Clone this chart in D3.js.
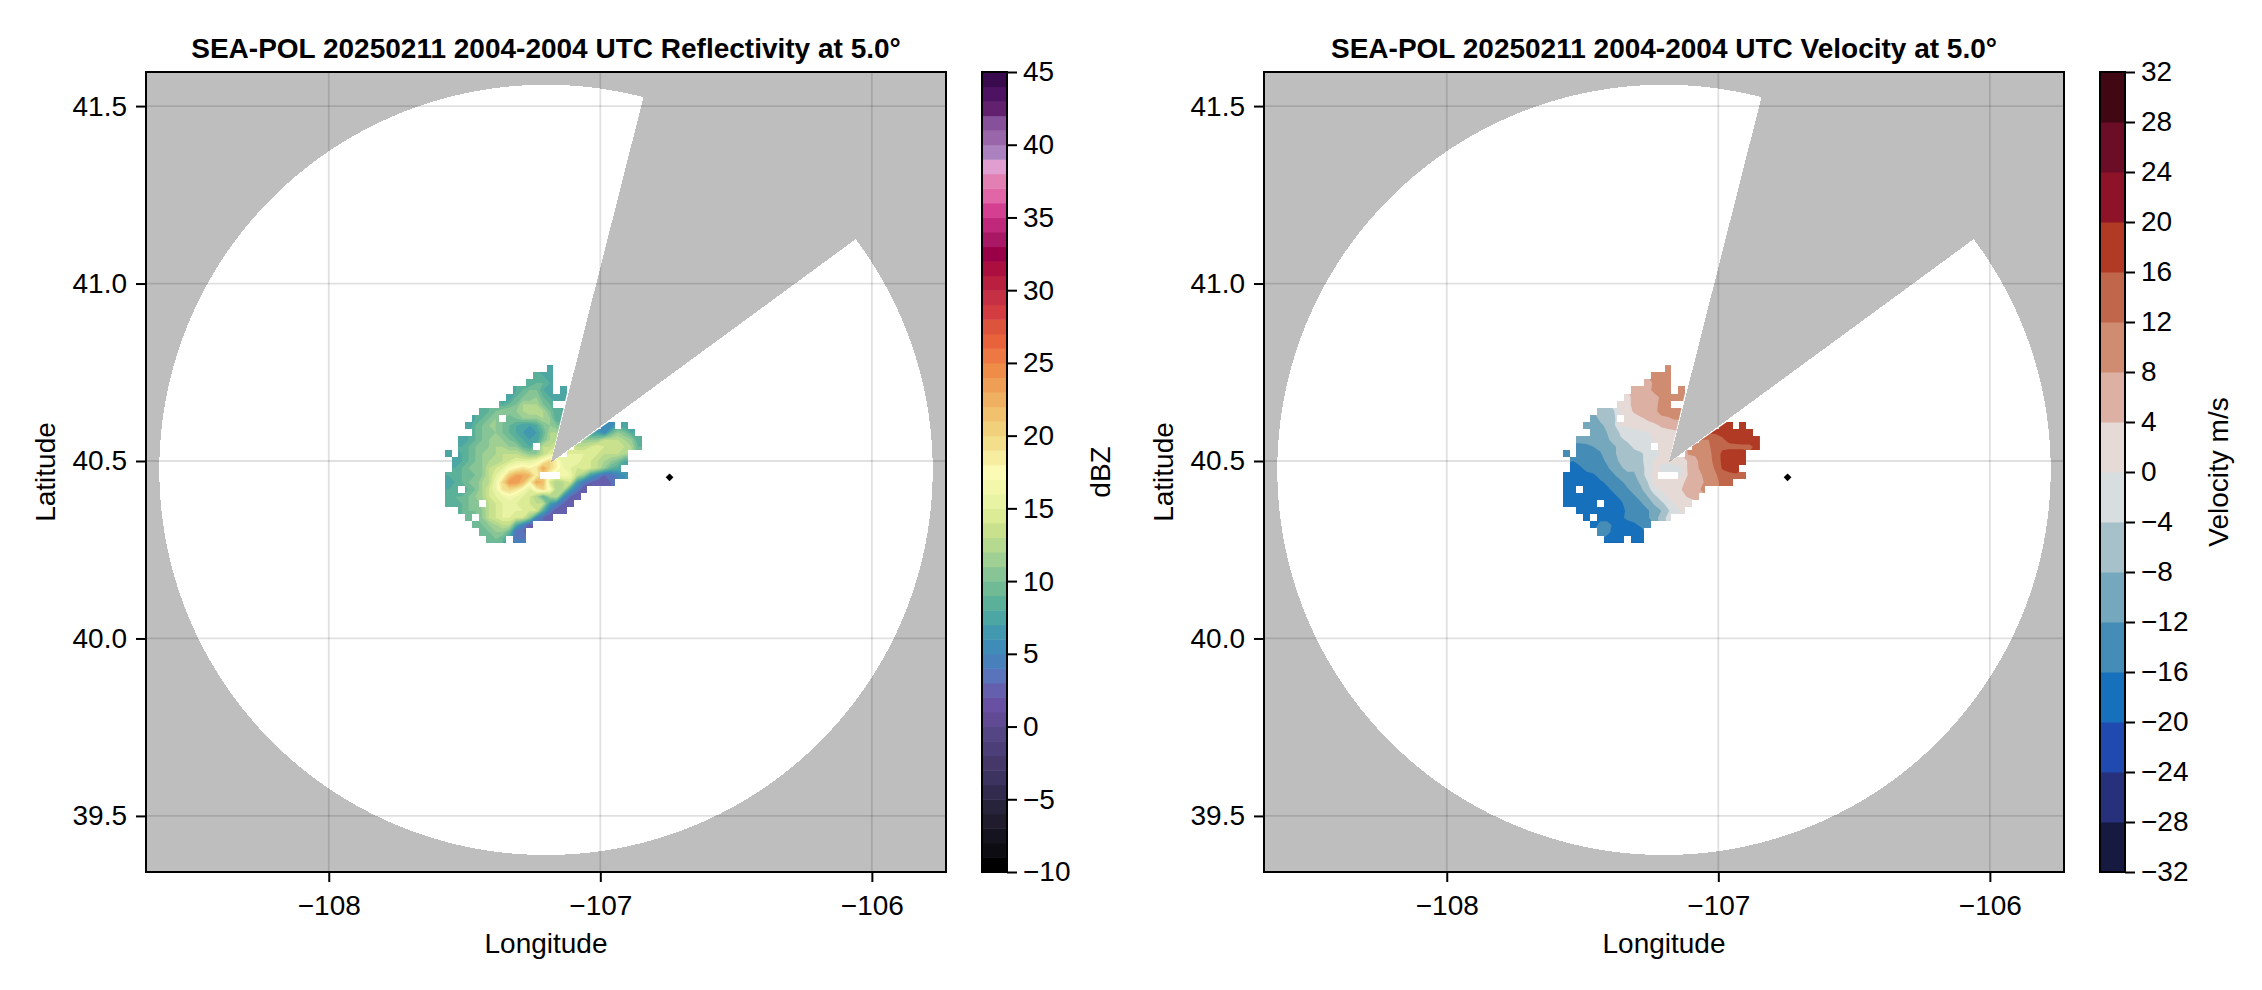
<!DOCTYPE html>
<html>
<head>
<meta charset="utf-8">
<title>SEA-POL</title>
<script src="https://cdn.jsdelivr.net/npm/d3@7"></script>
<style>
  html, body { margin: 0; padding: 0; background: #fff; }
  svg { display: block; }
  text { font-family: "Liberation Sans", Arial, sans-serif; fill: #000; }
</style>
</head>
<body>
<div id="chart"></div>
<script>
const N = null;

/* ===== Data ===== */
const lonDomain = [-108.673, -105.727];
const latDomain = [39.342, 41.596];
const lonTicks = [-108, -107, -106];
const latTicks = [39.5, 40.0, 40.5, 41.0, 41.5];

const radarLon = -107.2;
const radarLat = 40.475;
const rangeLon = 1.424;
const rangeLat = 1.085;
const blockedAz = [14.6, 53.2];
const innerRange = 0.025;

const markerLon = -106.745;
const markerLat = 40.454;

// grid of the echo, first cell and spacing in degrees
const gridLon0 = -107.56;
const gridLat0 = 40.76;
const gridDLon = 0.025;
const gridDLat = 0.02;
const gridCols = 29;

const dbzRows = [
  [N,N,N,N,N,N,N,N,N,N,N,N,N,N,N,7],
  [N,N,N,N,N,N,N,N,N,N,N,N,N,8,8,7],
  [N,N,N,N,N,N,N,N,N,N,N,N,8,9,9,8],
  [N,N,N,N,N,N,N,N,N,N,8,9,10,10,8,7,N,7],
  [N,N,N,N,N,N,N,N,N,7,9,10,10,11,9,8,7,7],
  [N,N,N,N,N,N,N,N,8,9,10,12,12,12,10,9],
  [N,N,N,N,N,8,9,10,11,11,11,12,13,13,12,10,8,8],
  [N,N,N,N,8,9,10,11,N,9,10,11,11,11,12,11,8,8],
  [N,N,N,7,9,10,11,11,10,9,8,7,7,8,10,11,10,10,N,N,N,N,N,5,5,N,7],
  [N,N,N,N,9,10,10,11,10,9,8,7,6,7,9,12,12,N,N,N,N,7,7,5,9,11,10,8],
  [N,N,7,8,9,10,11,11,11,10,9,8,7,7,10,12,13,N,N,N,11,11,11,13,13,13,12,11,8],
  [N,N,8,9,10,10,11,12,12,11,11,9,8,N,13,13,14,N,N,13,13,14,15,14,14,14,13,12,9],
  [7,N,8,9,10,11,11,12,13,13,13,12,11,11,13,15,15,N,15,15,15,15,14,13,13,13,12],
  [N,7,8,9,10,11,12,12,13,14,15,15,15,16,18,20,18,15,15,16,14,14,13,12,11,10,8],
  [N,8,9,10,10,11,13,14,15,17,18,19,18,19,23,20,18,16,15,14,15,14,13,11,9,8],
  [8,8,9,9,10,11,13,15,17,21,23,23,22,18,N,N,N,17,16,13,11,7,5,3,3,5,6],
  [7,8,9,10,10,12,13,16,20,24,24,22,18,23,22,14,12,13,14,7,4,3,2,2,3],
  [8,8,N,9,10,12,14,16,19,20,19,17,15,18,20,17,12,13,7,4,2],
  [8,9,9,10,11,12,14,15,16,17,16,15,14,12,9,12,13,6,3,2],
  [8,8,9,10,10,N,13,14,15,15,15,14,14,13,13,7,5,3,2],
  [N,N,9,10,10,11,13,14,15,15,15,15,14,14,8,4,2,2],
  [N,N,N,9,N,11,13,14,15,15,14,14,11,5,3,2],
  [N,N,N,N,9,10,11,12,13,13,8,5,2],
  [N,N,N,N,N,9,10,11,11,9,3,3],
  [N,N,N,N,N,N,9,10,9,N,4,4]
];

const velRows = [
  [N,N,N,N,N,N,N,N,N,N,N,N,N,N,N,9],
  [N,N,N,N,N,N,N,N,N,N,N,N,N,10,10,9],
  [N,N,N,N,N,N,N,N,N,N,N,N,6,9,10,10],
  [N,N,N,N,N,N,N,N,N,N,5,6,7,9,10,10,N,10],
  [N,N,N,N,N,N,N,N,N,3,5,6,6,7,8.5,10,10,10],
  [N,N,N,N,N,N,N,N,1.5,3,5,6,6.5,7,9,10],
  [N,N,N,N,N,-7,-6,-4.5,1,2.5,4.5,6,6.5,7,9.5,10,10,10],
  [N,N,N,N,-9,-7.5,-6.5,-5,N,1,2.5,3.5,4.5,6,7,7.5,8.5,8.5],
  [N,N,N,-11,-9.5,-8.5,-7.5,-5,0.5,1,1.5,2,3,3,4.5,5,6,6,N,N,N,N,N,18,18,N,17],
  [N,N,N,N,-10,-9,-8,-6,-3.5,-2,-1.5,-1,-0.3,1.5,2.5,3,3,N,N,N,N,16.5,16.5,17,17.5,18,17,17],
  [N,N,-11,-10.5,-10,-9.5,-8.5,-7,-4.5,-3.5,-2,-1.5,-1,0.2,2,3,3,N,N,N,12,12,14,15.5,17,17.5,18,18,17],
  [N,N,-13,-13,-12,-11,-10,-8.5,-7,-5,-3.5,-2.5,-1.5,N,1.5,2.5,2.5,N,N,10,10,11.5,14,15,15,15,15,15,17],
  [-14,N,-14,-14,-14,-12.5,-10,-8.5,-7,-6,-5,-4.5,-3,-1.5,0.5,2,2,N,8.5,8.5,10,11,13.5,17,18,18,18],
  [N,-16,-15,-14.5,-14,-13,-11.5,-9,-7.5,-6.5,-6,-5,-2,0.5,1,1,1.5,2,4.5,7,9.5,11,13,17,18,18,17],
  [N,-17,-16.5,-15,-14.5,-13.5,-12.5,-10.5,-8.5,-7,-7.5,-5.5,-2.5,1,-1,-2,-1.5,-0.5,5,7.5,8.5,10.5,12.5,16.5,17.5,17.5],
  [-17,-18,-18,-17,-16.5,-15,-14,-12.5,-10,-9,-8.5,-6,-2,1,N,N,N,-0.2,4.5,6.5,8,10,11.5,14,15,15.5,15],
  [-18,-18,-18.5,-18,-17.5,-16.5,-15.5,-14.5,-13,-10.5,-9,-7.5,-4,1,2.5,1.5,2,3,5.5,6,7.5,9.5,11,13,14],
  [-18,-18,N,-18,-18,-17.5,-16.5,-15.5,-14.5,-12.5,-10.5,-8.5,-6,-1,0.5,1.5,2.5,4,4.5,6,8.5],
  [-18,-18,-18,-18,-18,-18,-17.5,-16.5,-15.5,-14,-12.5,-10.5,-8,-5,-2,0.5,2,3,4.5,5],
  [-18,-18,-18,-18,-18,N,-18,-17.5,-16.5,-15,-14,-12.5,-10,-7.5,-5,-2.5,0.5,1,1.5],
  [N,N,-18,-18,-18,-18,-18,-18,-17,-15.5,-15,-14,-12.5,-10,-8,-4.5,-2,0.2],
  [N,N,N,-18,N,-17,-17,-17,-16.5,-15.5,-15,-14,-12.5,-10,-6,-3],
  [N,N,N,N,-17.5,-15,-15,-16.5,-17,-17,-16.5,-15.5,-14],
  [N,N,N,N,N,-14.5,-15,-17,-18,-18,-18,-17],
  [N,N,N,N,N,N,-17,-18,-18,N,-18,-18]
];

// one colour per band, lowest band first
const dbzBreaks = [-10,-9,-8,-7,-6,-5,-4,-3,-2,-1,0,1,2,3,4,5,6,7,8,9,10,11,12,13,14,15,16,17,18,19,20,21,22,23,24,25,26,27,28,29,30,31,32,33,34,35,36,37,38,39,40,41,42,43,44,45];
const dbzColors = [
  "#000000","#0c0c12","#15141e","#201c2e","#27233a","#322b4e","#3d3360","#453869","#4c3e78","#544685",
  "#5f4a93","#6850a3","#6460ad","#5a74bb","#4880bc","#3f8cb9","#4298ae","#4ca6a4","#5bb09a","#70bb96",
  "#88c596","#9fcf93","#b5d98f","#c9e18c","#dcec96","#e8f3a4","#f3f7ac","#fbfbb5","#f6eda0","#f3de8b",
  "#f0d07b","#f1c16e","#efb061","#ef9f55","#ef8c48","#ee7843","#e8623b","#dd543d","#d33c40","#c63045",
  "#b92040","#aa0f40","#9a0048","#a81864","#c0287c","#d43f92","#e066a8","#e380b3","#e09fd0","#ab82bf",
  "#9967a9","#87509a","#62206f","#4d1261","#3a0a4e"
];
const dbzTicks = [-10,-5,0,5,10,15,20,25,30,35,40,45];

const velBreaks = [-32,-28,-24,-20,-16,-12,-8,-4,0,4,8,12,16,20,24,28,32];
const velColors = [
  "#171a40","#27307a","#214ab0","#1670bb","#458cb7","#76a8bd","#a7c1ca","#d8dde0",
  "#e6dad7","#dcb0a2","#cf8c71","#c0664a","#b03a24","#8e1228","#6b0d26","#3f0813"
];
const velTicks = velBreaks;

/* ===== Layout ===== */
const W = 2262, H = 990;
const plotTop = 72, plotSize = 800, cbarW = 25;
const fsTick = 28, fsTitle = 28, fsLabel = 28;
const minus = d => String(d).replace("-", "\u2212");

const svg = d3.select("#chart").append("svg")
  .attr("width", W).attr("height", H)
  .attr("viewBox", [0, 0, W, H]);

function styleAxis(g) {
  g.selectAll("path.domain").remove();
  g.selectAll(".tick line").attr("stroke", "#000").attr("stroke-width", 2);
  g.selectAll(".tick text").attr("font-size", fsTick).attr("font-family", null);
}

function coveragePoints(azFrom, azTo) {
  const pts = [[radarLon + innerRange * rangeLon / rangeLat * Math.sin(34 * Math.PI / 180),
                radarLat + innerRange * Math.cos(34 * Math.PI / 180)]];
  for (let az = azFrom; az <= azTo + 0.001; az += (azTo - azFrom) / 720) {
    const a = az * Math.PI / 180;
    pts.push([radarLon + rangeLon * Math.sin(a), radarLat + rangeLat * Math.cos(a)]);
  }
  return pts;
}

// empty cells take their neighbours' value so bands run on up to the mask edge
function fillGaps(vals, nx, ny, low) {
  let cur = vals.slice();
  for (let pass = 0; pass < 3; pass++) {
    const next = cur.slice();
    for (let j = 0; j < ny; j++) {
      for (let i = 0; i < nx; i++) {
        if (cur[j * nx + i] != null) continue;
        const around = [];
        if (i > 0) around.push(cur[j * nx + i - 1]);
        if (i < nx - 1) around.push(cur[j * nx + i + 1]);
        if (j > 0) around.push(cur[(j - 1) * nx + i]);
        if (j < ny - 1) around.push(cur[(j + 1) * nx + i]);
        const m = d3.mean(around);
        if (m != null) next[j * nx + i] = m;
      }
    }
    cur = next;
  }
  return cur.map(v => v == null ? low : v);
}

/* ===== One panel ===== */
function drawPanel(o) {
  const x = d3.scaleLinear().domain(lonDomain).range([o.left, o.left + plotSize]);
  const y = d3.scaleLinear().domain(latDomain).range([plotTop + plotSize, plotTop]);
  const g = svg.append("g");

  g.append("rect")
    .attr("x", o.left).attr("y", plotTop)
    .attr("width", plotSize).attr("height", plotSize)
    .attr("fill", "#bebebe");

  const line = d3.line().x(d => x(d[0])).y(d => y(d[1]));

  g.append("path")
    .attr("d", line(coveragePoints(blockedAz[1], blockedAz[0] + 360)) + "Z")
    .attr("fill", "#fff")
    .attr("shape-rendering", "crispEdges");

  // grid
  g.append("g").selectAll("line").data(lonTicks).join("line")
    .attr("x1", d => x(d)).attr("x2", d => x(d))
    .attr("y1", plotTop).attr("y2", plotTop + plotSize)
    .attr("stroke", "#000").attr("stroke-opacity", 0.12).attr("stroke-width", 1.8);
  g.append("g").selectAll("line").data(latTicks).join("line")
    .attr("y1", d => y(d)).attr("y2", d => y(d))
    .attr("x1", o.left).attr("x2", o.left + plotSize)
    .attr("stroke", "#000").attr("stroke-opacity", 0.12).attr("stroke-width", 1.8);

  // echo: filled contours of the grid, inside the scanned sector and the cells with data
  const values = [];
  const cells = [];
  o.rows.forEach((row, j) => {
    for (let i = 0; i < gridCols; i++) {
      values.push(row[i] == null ? null : row[i]);
      if (row[i] != null) cells.push({ lon: gridLon0 + i * gridDLon, lat: gridLat0 - j * gridDLat });
    }
  });
  const ny = o.rows.length;

  const project = d3.geoTransform({
    point(px, py) {
      this.stream.point(
        x(gridLon0 + (px - 0.5) * gridDLon),
        y(gridLat0 - (py - 0.5) * gridDLat)
      );
    }
  });
  const contourPath = d3.geoPath(project);

  const sectorId = "sector-" + o.left;
  g.append("clipPath").attr("id", sectorId).append("path")
    .attr("d", line(coveragePoints(blockedAz[1] + 1.2, blockedAz[0] - 1.2 + 360)) + "Z");

  const maskId = "mask-" + o.left;
  g.append("clipPath").attr("id", maskId)
    .selectAll("rect").data(cells).join("rect")
    .attr("x", d => x(d.lon - gridDLon / 2))
    .attr("y", d => y(d.lat + gridDLat / 2))
    .attr("width", x(gridDLon) - x(0))
    .attr("height", y(0) - y(gridDLat))
    .attr("shape-rendering", "crispEdges");

  const contours = d3.contours()
    .size([gridCols, ny])
    .thresholds(o.breaks.slice(0, -1))(fillGaps(values, gridCols, ny, o.breaks[0] + 0.5));

  g.append("g").attr("clip-path", `url(#${sectorId})`)
    .append("g").attr("clip-path", `url(#${maskId})`)
    .selectAll("path").data(contours).join("path")
    .attr("d", contourPath)
    .attr("fill", (d, i) => o.colors[i]);

  // marker
  g.append("path")
    .attr("d", d3.symbol(d3.symbolSquare, 30)())
    .attr("transform", `translate(${x(markerLon)},${y(markerLat)}) rotate(45)`)
    .attr("fill", "#000");

  // frame and axes
  g.append("rect")
    .attr("x", o.left).attr("y", plotTop)
    .attr("width", plotSize).attr("height", plotSize)
    .attr("fill", "none").attr("stroke", "#000").attr("stroke-width", 2);

  g.append("g")
    .attr("transform", `translate(0,${plotTop + plotSize})`)
    .call(d3.axisBottom(x).tickValues(lonTicks).tickSize(10).tickPadding(13).tickFormat(minus))
    .call(styleAxis);
  g.append("g")
    .attr("transform", `translate(${o.left},0)`)
    .call(d3.axisLeft(y).tickValues(latTicks).tickSize(10).tickPadding(9).tickFormat(d3.format(".1f")))
    .call(styleAxis);

  g.append("text")
    .attr("x", o.left + plotSize / 2).attr("y", 58)
    .attr("text-anchor", "middle")
    .attr("font-size", fsTitle).attr("font-weight", "bold")
    .text(o.title);
  g.append("text")
    .attr("x", o.left + plotSize / 2).attr("y", 953)
    .attr("text-anchor", "middle").attr("font-size", fsLabel)
    .text("Longitude");
  g.append("text")
    .attr("transform", `translate(${o.left - 91},${plotTop + plotSize / 2}) rotate(-90)`)
    .attr("text-anchor", "middle").attr("font-size", fsLabel)
    .text("Latitude");

  /* ===== Colorbar ===== */
  const cx = o.left + plotSize + 36;
  const cy = d3.scaleLinear().domain(d3.extent(o.breaks)).range([plotTop + plotSize, plotTop]);
  g.append("g").selectAll("rect").data(o.colors).join("rect")
    .attr("x", cx).attr("width", cbarW)
    .attr("y", (d, i) => cy(o.breaks[i + 1]))
    .attr("height", (d, i) => cy(o.breaks[i]) - cy(o.breaks[i + 1]) + 0.5)
    .attr("fill", d => d);
  g.append("rect")
    .attr("x", cx).attr("y", plotTop)
    .attr("width", cbarW).attr("height", plotSize)
    .attr("fill", "none").attr("stroke", "#000").attr("stroke-width", 2);
  g.append("g")
    .attr("transform", `translate(${cx + cbarW},0)`)
    .call(d3.axisRight(cy).tickValues(o.ticks).tickSize(10).tickPadding(6).tickFormat(minus))
    .call(styleAxis);
  g.append("text")
    .attr("transform", `translate(${o.unitX},${plotTop + plotSize / 2}) rotate(-90)`)
    .attr("text-anchor", "middle").attr("font-size", fsLabel)
    .text(o.unit);
}

drawPanel({
  left: 146,
  title: "SEA-POL 20250211 2004-2004 UTC Reflectivity at 5.0\u00b0",
  rows: dbzRows, breaks: dbzBreaks, colors: dbzColors, ticks: dbzTicks,
  unit: "dBZ", unitX: 1110
});
drawPanel({
  left: 1264,
  title: "SEA-POL 20250211 2004-2004 UTC Velocity at 5.0\u00b0",
  rows: velRows, breaks: velBreaks, colors: velColors, ticks: velTicks,
  unit: "Velocity m/s", unitX: 2228
});
</script>
</body>
</html>
